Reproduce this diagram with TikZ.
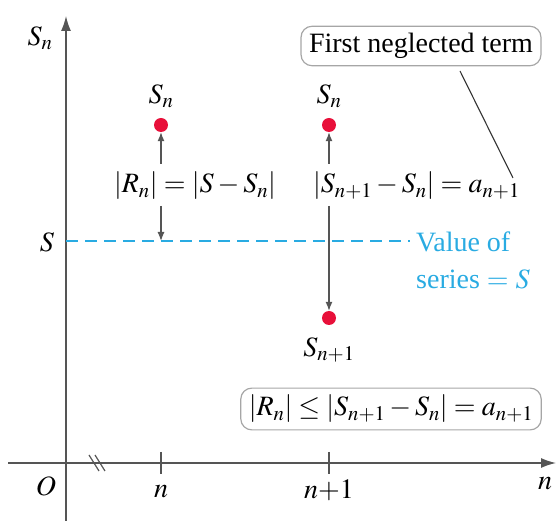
\documentclass[tikz,border=0pt]{standalone}
\usepackage{mathptmx}
\usepackage{fontspec}
\setmainfont{Liberation Serif}
\usetikzlibrary{arrows.meta}
\definecolor{cyanline}{HTML}{29ABE2}
\definecolor{dotred}{HTML}{E8103A}
\definecolor{axisgray}{HTML}{555555}
\begin{document}
\begin{tikzpicture}[x=1pt,y=-1pt,
  axis/.style={draw=axisgray,line width=1.4pt},
  lbl/.style={inner sep=0pt,font=\fontsize{28}{32}\selectfont},
  dot/.style={circle,fill=dotred,inner sep=0pt,minimum size=14pt},
  arr/.style={draw=axisgray,line width=1.2pt,-{Latex[length=9pt,width=7pt]}},
  callout/.style={draw=gray!70,line width=1.2pt,rounded corners=11pt,inner xsep=8pt,inner ysep=7pt,fill=white,font=\fontsize{28}{32}\selectfont}]
\useasboundingbox (0,0) rectangle (558,521);
% axes
\coordinate (yb) at (66,521);
\coordinate (yt) at (66,16);
\coordinate (xl) at (8,463);
\coordinate (xr) at (556,463);
\draw[axis,-{Latex[length=15pt,width=10pt]}] (yb) -- (yt);
\draw[axis,-{Latex[length=15pt,width=10pt]}] (xl) -- (xr);
\node[lbl] (ylab) at (40,38) {$S_n$};
\node[lbl] (xlab) at (545,484) {$n$};
\node[lbl] (O) at (46,486) {$O$};
% break mark
\draw[axisgray,line width=1.2pt] (89,455) -- (99,471) (95,455) -- (105,471);
% ticks
\draw[axisgray,line width=1.4pt] (161,452) -- (161,474) (329,452) -- (329,474);
\node[lbl] (ln) at (161,492) {$n$};
\node[lbl] (ln1) at (329,490) {$n{+}1$};
% dashed line
\coordinate (dS) at (66,241);
\coordinate (dE) at (410,241);
\draw[cyanline,line width=1.8pt,dash pattern=on 12pt off 7pt] (dS) -- (dE);
\node[lbl] (Slab) at (47,242) {$S$};
\node[lbl,text=cyanline,anchor=west] (val) at (416,242) {Value of};
\node[lbl,text=cyanline,anchor=west] (ser) at (416,279) {series $=$ \textcolor{cyanline}{$S$}};
% dots
\node[dot] (d1) at (161,125) {};
\node[dot] (d2) at (329,125) {};
\node[dot] (d3) at (329,318) {};
\node[lbl] (s1) at (161,96) {$S_n$};
\node[lbl] (s2) at (329,96) {$S_n$};
\node[lbl] (s3) at (329,350) {$S_{n+1}$};
% labels with arrows
\node[lbl] (R) at (195,186) {$|R_n| = |S - S_n|$};
\node[lbl,anchor=west] (D) at (313,186) {$|S_{n+1} - S_n| = a_{n+1}$};
\coordinate (a1s) at (161,164);
\coordinate (a1d) at (161,206);
\coordinate (a1e) at (161,241);
\draw[arr] (a1s) -- (d1);
\draw[arr] (a1d) -- (a1e);
\coordinate (a2s) at (329,164);
\coordinate (a2d) at (329,206);
\draw[arr] (a2s) -- (d2);
\draw[arr] (a2d) -- (d3);
% callouts
\node[callout] (first) at (421,46) {First neglected term};
\coordinate (ptr) at (513,178);
\draw[black!80,line width=1.1pt] (460,71) -- (ptr);
\node[callout] (ineq) at (391,409) {$|R_n| \le |S_{n+1} - S_n| = a_{n+1}$};
\end{tikzpicture}
\end{document}
